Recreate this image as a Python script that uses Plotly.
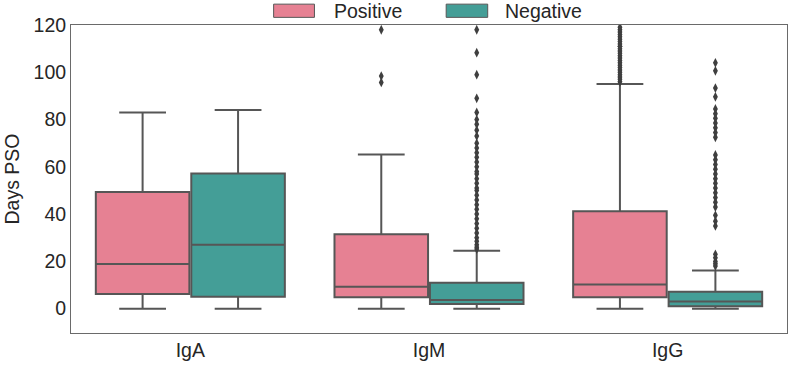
import plotly.graph_objects as go

# ---------------- data ----------------
categories = ["IgA", "IgM", "IgG"]
groups = ["Positive", "Negative"]

pos_lower = [0, 0, 0]
pos_q1 = [6.2, 4.8, 4.8]
pos_median = [18.9, 9.3, 10.2]
pos_q3 = [49.3, 31.5, 41.2]
pos_upper = [83.0, 65.2, 95.0]

neg_lower = [0, 0, 0]
neg_q1 = [5.0, 2.0, 1.0]
neg_median = [27.0, 3.7, 3.0]
neg_q3 = [57.2, 11.0, 7.2]
neg_upper = [84.0, 24.5, 16.1]

pos_outliers_IgA = []
pos_outliers_IgM = [118, 98.4, 95.7]
pos_outliers_IgG = [96, 97, 98, 99, 100, 101, 102, 103, 104, 105, 106, 107, 108,
                    109, 110, 111, 112, 113, 114, 115, 116, 117, 118, 119]

neg_outliers_IgA = []
neg_outliers_IgM = [118, 108.3, 99, 89, 83, 80, 78, 75.5, 73, 70, 68, 66, 64, 62,
                    60, 58, 57, 55, 53, 51, 50, 48, 46, 44, 42, 40, 38, 36, 34,
                    32, 30, 28.5, 27, 26, 25.2]
neg_outliers_IgG = [104, 100.6, 93.3, 89.6, 84.5, 82.5, 80.5, 78.5, 76.5, 74.5,
                    72.5, 65, 63, 61, 59, 57, 55, 53, 51, 49, 47, 45, 43, 39.5,
                    37, 35, 23, 21.5, 20, 19, 18]

pos_outliers = [pos_outliers_IgA, pos_outliers_IgM, pos_outliers_IgG]
neg_outliers = [neg_outliers_IgA, neg_outliers_IgM, neg_outliers_IgG]

# ---------------- style ----------------
pos_color = "#e68193"
neg_color = "#449e97"
line_gray = "#565656"
point_gray = "#3f3f3f"
text_color = "#262626"
font_family = "Liberation Sans, Arial, Helvetica, sans-serif"
font_size = 19.5

hue_offset = 0.2      # seaborn: 0.8 total width split into two hues
box_width = 0.392     # 0.4 * 0.98

fig = go.Figure()

series = [
    (groups[0], -hue_offset, pos_color, pos_lower, pos_q1, pos_median, pos_q3, pos_upper, pos_outliers),
    (groups[1], +hue_offset, neg_color, neg_lower, neg_q1, neg_median, neg_q3, neg_upper, neg_outliers),
]

for name, off, col, lo, q1, med, q3, up, outs in series:
    xs = [i + off for i in range(len(categories))]
    fig.add_trace(go.Box(
        name=name, x=xs, q1=q1, median=med, q3=q3,
        lowerfence=lo, upperfence=up,
        width=box_width, whiskerwidth=0.5,
        fillcolor=col, line=dict(color=line_gray, width=2),
        boxpoints=False, showlegend=False, hoverinfo="skip",
    ))
    ox, oy = [], []
    for i, vals in enumerate(outs):
        ox += [i + off] * len(vals)
        oy += vals
    fig.add_trace(go.Scatter(
        x=ox, y=oy, mode="markers", showlegend=False,
        marker=dict(symbol="diamond-tall", size=7, color=point_gray,
                    line=dict(width=0)),
    ))

# ---------------- legend (drawn above plot) ----------------
legend_items = [
    (groups[0], pos_color, 0.283, 0.340, 0.364),
    (groups[1], neg_color, 0.524, 0.582, 0.604),
]
for name, col, x0, x1, tx in legend_items:
    fig.add_shape(type="rect", xref="paper", yref="paper",
                  x0=x0, x1=x1, y0=1.0248, y1=1.0677,
                  fillcolor=col, line=dict(color=line_gray, width=1))
    fig.add_annotation(xref="paper", yref="paper", x=tx, y=1.0468,
                       text=name, showarrow=False, xanchor="left", yanchor="middle",
                       font=dict(size=font_size, color=text_color, family=font_family))

frame = "#6a6a6a"
fig.update_layout(
    width=792, height=365,
    margin=dict(l=71, r=4, t=25, b=30),
    paper_bgcolor="white", plot_bgcolor="white",
    boxmode="overlay",
    font=dict(family=font_family, size=font_size, color=text_color),
    xaxis=dict(
        range=[-0.5, 2.5], tickmode="array",
        tickvals=list(range(len(categories))), ticktext=categories,
        showgrid=False, zeroline=False, ticks="",
        showline=True, linecolor=frame, linewidth=1, mirror=True,
        tickfont=dict(size=font_size, color=text_color),
    ),
    yaxis=dict(
        range=[-10.3, 120], tickmode="array",
        tickvals=[0, 20, 40, 60, 80, 100, 120],
        showgrid=False, zeroline=False, ticks="",
        showline=True, linecolor=frame, linewidth=1, mirror=True,
        tickfont=dict(size=font_size, color=text_color),
        title=dict(text="Days PSO", standoff=8,
                   font=dict(size=font_size, color=text_color)),
    ),
)

fig.write_html("out.html",
               config={"displayModeBar": False, "staticPlot": True},
               post_script="document.body.style.margin='0';document.body.style.overflow='hidden';")
